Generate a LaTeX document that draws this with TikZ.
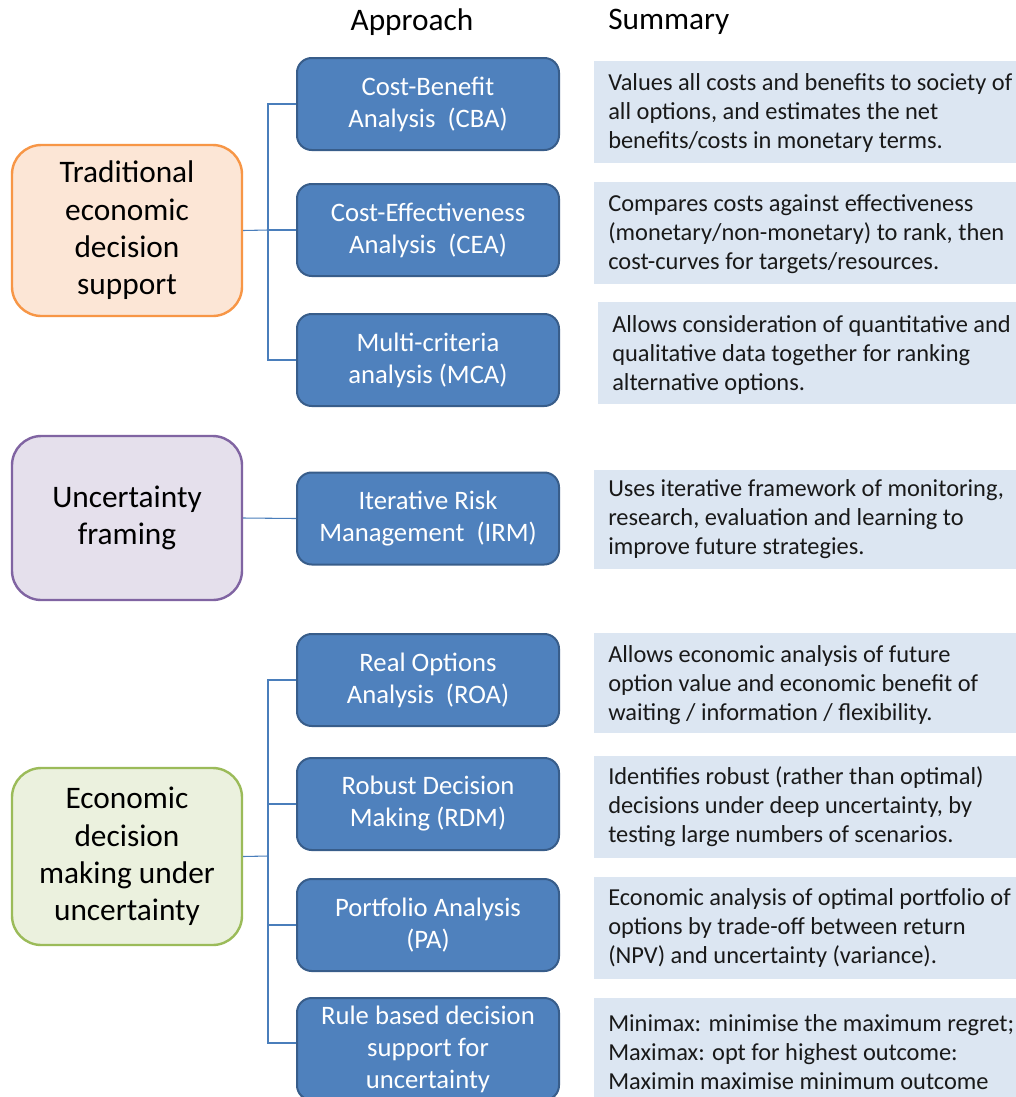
\documentclass[tikz,border=0pt]{standalone}
\usepackage{fontspec}
\setmainfont{Carlito}
\usetikzlibrary{calc}
\definecolor{apfill}{HTML}{4F81BD}
\definecolor{apdraw}{HTML}{385D8A}
\definecolor{sumfill}{HTML}{DCE6F2}
\definecolor{orgdraw}{HTML}{F79646}
\definecolor{orgfill}{HTML}{FCE6D6}
\definecolor{purdraw}{HTML}{8064A2}
\definecolor{purfill}{HTML}{E5E0EC}
\definecolor{grndraw}{HTML}{9BBB59}
\definecolor{grnfill}{HTML}{EBF1DE}
\definecolor{conn}{HTML}{4A7EBB}
\tikzset{
  apbox/.style={draw=apdraw, fill=apfill, line width=1.5pt, rounded corners=11pt,
    minimum width=196.5pt, minimum height=69pt, inner sep=0pt, align=center,
    text=white, font=\fontsize{20}{24}\selectfont},
  catbox/.style={line width=1.8pt, rounded corners=22pt, minimum width=172.5pt,
    inner sep=0pt, align=center, text=black, font=\fontsize{23.5}{28}\selectfont},
  sumbox/.style={fill=sumfill, draw=none, minimum width=316.5pt, minimum height=76.5pt, inner sep=0pt},
  sumtext/.style={anchor=west, align=left, inner sep=0pt, text=black!90,
    font=\fontsize{18.3}{21.75}\selectfont},
  header/.style={inner sep=0pt, font=\fontsize{23.5}{28}\selectfont, text=black},
  link/.style={draw=conn, line width=0.8pt}
}
\begin{document}
\begin{tikzpicture}[x=0.75pt,y=-0.75pt]
\useasboundingbox (0,0) rectangle (1016,1097);
\fill[white] (0,0) rectangle (1016,1097);

% headers
\node[header] (hA) at (412,22) {Approach};
\node[header, anchor=west] (hS) at (608,22) {Summary};

% category boxes
\node[catbox, draw=orgdraw, fill=orgfill, minimum height=128.25pt] (trad) at (127,230.5)
  {Traditional\\economic\\decision\\support};
\node[catbox, draw=purdraw, fill=purfill, minimum height=123pt] (unc) at (127,518)
  {Uncertainty\\framing};
\node[catbox, draw=grndraw, fill=grnfill, minimum height=132.75pt] (econ) at (127,856.5)
  {Economic\\decision\\making under\\uncertainty};

% approach boxes
\node[apbox] (cba) at (428,104) {Cost-Benefit\\Analysis\ \ (CBA)};
\node[apbox] (cea) at (428,230) {Cost-Effectiveness\\Analysis\ \ (CEA)};
\node[apbox] (mca) at (428,360) {Multi-criteria\\analysis (MCA)};
\node[apbox] (irm) at (428,518.5) {Iterative Risk\\Management\ \ (IRM)};
\node[apbox] (roa) at (428,680) {Real Options\\Analysis\ \ (ROA)};
\node[apbox] (rdm) at (428,804) {Robust Decision\\Making (RDM)};
\node[apbox] (pa) at (428,925) {Portfolio Analysis\\(PA)};
\node[apbox, minimum height=76.5pt] (rule) at (428,1049) {Rule based decision\\support for\\uncertainty};

% summary boxes
\node[sumbox] (s1) at (805,112) {};
\node[sumbox] (s2) at (805,233) {};
\node[sumbox, minimum width=313.5pt] (s3) at (807,353) {};
\node[sumbox, minimum height=74.25pt] (s4) at (805,519.5) {};
\node[sumbox, minimum height=75pt] (s5) at (805,683) {};
\node[sumbox] (s6) at (805,806.5) {};
\node[sumbox] (s7) at (805,928) {};
\node[sumbox] (s8) at (805,1049) {};

\node[sumtext] (t1) at (608,113) {Values all costs and benefits to society of\\all options, and estimates the net\\benefits/costs in monetary terms.};
\node[sumtext] (t2) at (608,234) {Compares costs against effectiveness\\(monetary/non-monetary) to rank, then\\cost-curves for targets/resources.};
\node[sumtext] (t3) at (612,355) {Allows consideration of quantitative and\\qualitative data together for ranking\\alternative options.};
\node[sumtext] (t4) at (608,519) {Uses iterative framework of monitoring,\\research, evaluation and learning to\\improve future strategies.};
\node[sumtext] (t5) at (608,685) {Allows economic analysis of future\\option value and economic benefit of\\waiting / information / flexibility.};
\node[sumtext] (t6) at (608,807) {Identifies robust (rather than optimal)\\decisions under deep uncertainty, by\\testing large numbers of scenarios.};
\node[sumtext] (t7) at (608,928) {Economic analysis of optimal portfolio of\\options by trade-off between return\\(NPV) and uncertainty (variance).};
\node[sumtext] (t8) at (608,1052) {Minimax: minimise the maximum regret;\\Maximax: opt for highest outcome:\\Maximin maximise minimum outcome};

% connectors
\coordinate (j1) at (268,230);
\coordinate (j3) at (268,856);
\draw[link] (trad.east) -- (j1);
\draw[link] (cba.west) -| (j1) |- (mca.west);
\draw[link] (j1) -- (cea.west);
\draw[link] (unc.east) -- (irm.west);
\draw[link] (econ.east) -- (j3);
\draw[link] (roa.west) -| (j3) |- ($(rule.west)+(0,-6)$);
\draw[link] (rdm.west) -- (rdm.west -| j3);
\draw[link] (pa.west) -- (pa.west -| j3);
\end{tikzpicture}
\end{document}
